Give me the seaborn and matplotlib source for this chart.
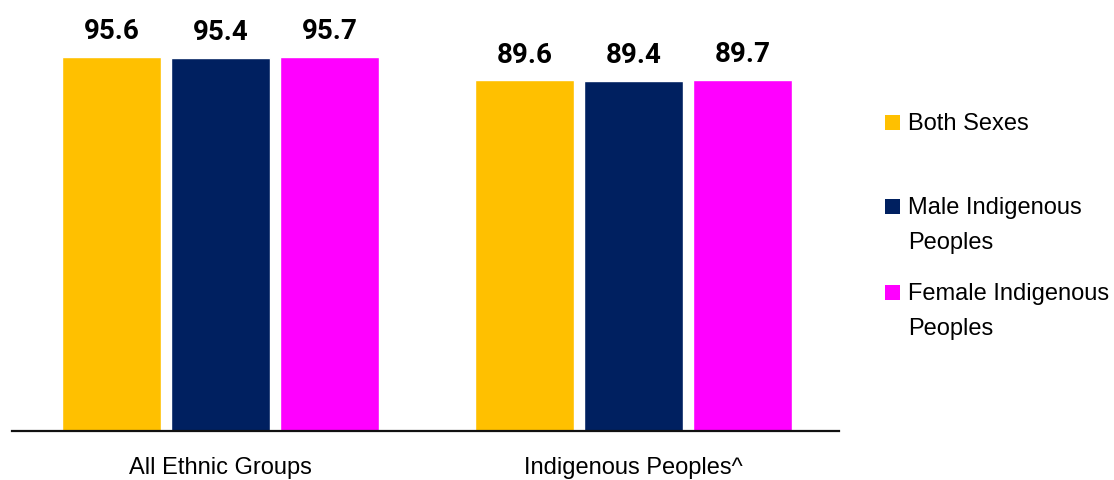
import textwrap
import matplotlib
matplotlib.use("Agg")
import matplotlib.pyplot as plt
import seaborn as sns
import pandas as pd
from matplotlib.patches import Rectangle
from matplotlib import font_manager

# ---- data ----
categories = ["All Ethnic Groups", "Indigenous Peoples^"]
series = ["Both Sexes", "Male Indigenous Peoples", "Female Indigenous Peoples"]
both_sexes = [95.6, 89.6]
male_indigenous = [95.4, 89.4]
female_indigenous = [95.7, 89.7]
colors = ["#FFC000", "#002060", "#FF00FF"]

values = [both_sexes, male_indigenous, female_indigenous]
rows = []
for s, vals in zip(series, values):
    for c, v in zip(categories, vals):
        rows.append({"category": c, "series": s, "value": v})
df = pd.DataFrame(rows)

sns.set_theme(style="white")
plt.rcParams["font.family"] = ["Liberation Sans", "DejaVu Sans"]

names = {f.name for f in font_manager.fontManager.ttflist}
if "Liberation Sans Narrow" in names:
    value_font, value_size = "Liberation Sans Narrow", 20.5
else:
    value_font, value_size = "Roboto", 20

W, H = 1114, 480
fig = plt.figure(figsize=(W / 100, H / 100), dpi=100)
ax = fig.add_axes([12 / W, (H - 430.5) / H, 827 / W, 430.5 / H])

sns.barplot(data=df, x="category", y="value", hue="series",
            order=categories, hue_order=series, palette=colors,
            width=0.79, gap=0.09, saturation=1, legend=False, ax=ax,
            errorbar=None)

ax.set_xlim(-0.505, 1.497)
ax.set_ylim(0, 110.2)
ax.set_xlabel("")
ax.set_ylabel("")
ax.set_yticks([])
for side in ["left", "right", "top"]:
    ax.spines[side].set_visible(False)
ax.spines["bottom"].set_color("#111111")
ax.spines["bottom"].set_linewidth(1.6)
ax.tick_params(axis="x", length=0, pad=19, labelsize=17, labelcolor="black")
for lbl in ax.get_xticklabels():
    lbl.set_family(["Liberation Sans", "DejaVu Sans"])

for cont in ax.containers:
    ax.bar_label(cont, fmt="%.1f", padding=8.5, fontsize=value_size,
                 fontweight="bold", family=value_font, color="black")

# ---- legend (manual, handle aligned to first line) ----
leg_x_box = 885 / W
leg_x_text = 908 / W
first_baselines = [130, 214, 300]
line_step = 34.5
for s, col, b in zip(series, colors, first_baselines):
    fig.patches.append(Rectangle((leg_x_box, 1 - b / H), 15 / W, 15 / H,
                                 transform=fig.transFigure, facecolor=col,
                                 edgecolor="none"))
    for i, line in enumerate(textwrap.wrap(s, 17)):
        fig.text(leg_x_text, 1 - (b + i * line_step) / H, line,
                 fontsize=17, va="baseline", ha="left", color="black")

fig.savefig("out.png", dpi=100)
